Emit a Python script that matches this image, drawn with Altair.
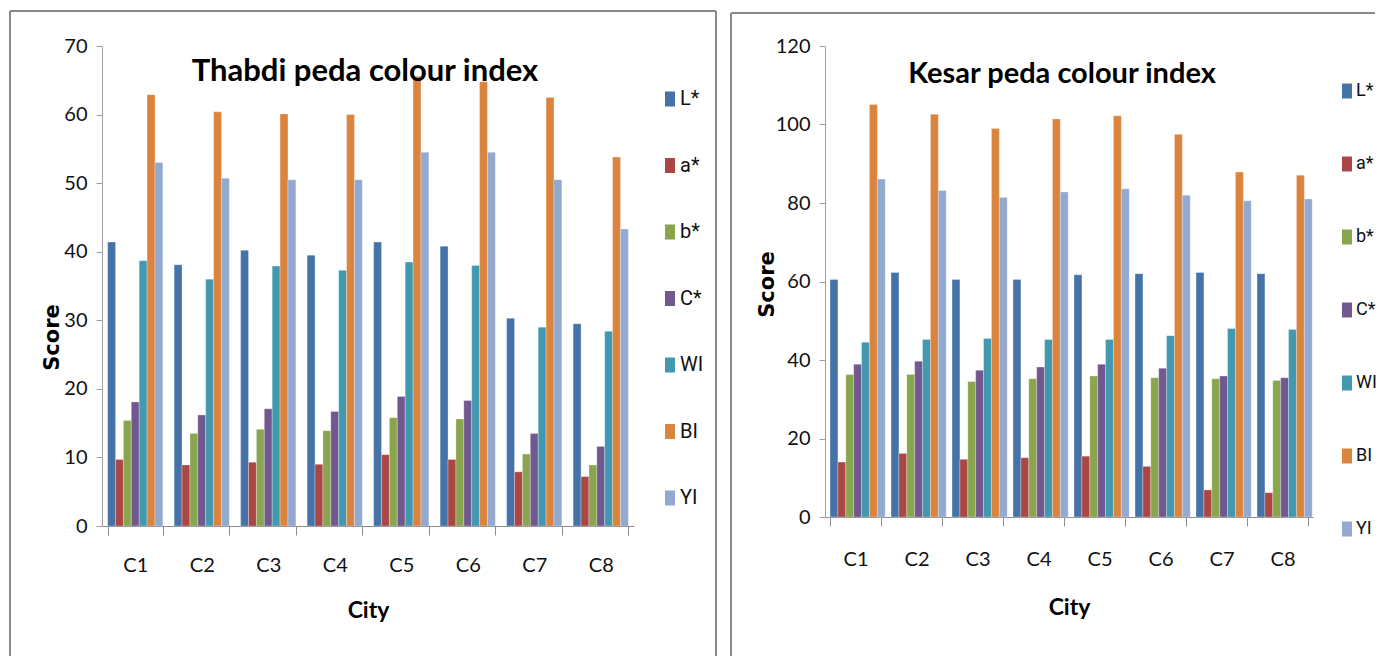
import altair as alt
import pandas as pd

cities = ["C1", "C2", "C3", "C4", "C5", "C6", "C7", "C8"]
indices = ["L*", "a*", "b*", "C*", "WI", "BI", "YI"]
colors = ["#4572A7", "#AA4643", "#89A54E", "#71588F", "#4198AF", "#DB843D", "#93A9CF"]

# Thabdi peda
thabdi_L = [41.4, 38.1, 40.2, 39.5, 41.4, 40.8, 30.3, 29.5]
thabdi_a = [9.7, 8.9, 9.3, 9.0, 10.4, 9.7, 7.9, 7.2]
thabdi_b = [15.4, 13.5, 14.1, 13.9, 15.8, 15.6, 10.5, 8.9]
thabdi_C = [18.1, 16.2, 17.1, 16.7, 18.9, 18.3, 13.5, 11.6]
thabdi_WI = [38.7, 36.0, 37.9, 37.3, 38.5, 38.0, 29.0, 28.4]
thabdi_BI = [62.9, 60.4, 60.1, 60.0, 65.6, 64.8, 62.5, 53.8]
thabdi_YI = [53.0, 50.7, 50.5, 50.5, 54.5, 54.5, 50.5, 43.3]

# Kesar peda
kesar_L = [60.5, 62.3, 60.5, 60.5, 61.7, 62.0, 62.3, 62.0]
kesar_a = [14.0, 16.2, 14.7, 15.1, 15.5, 12.9, 6.9, 6.2]
kesar_b = [36.3, 36.3, 34.5, 35.2, 35.9, 35.5, 35.2, 34.8]
kesar_C = [38.9, 39.7, 37.4, 38.2, 38.9, 37.9, 35.9, 35.5]
kesar_WI = [44.5, 45.2, 45.5, 45.2, 45.2, 46.2, 48.0, 47.8]
kesar_BI = [105.1, 102.6, 99.0, 101.4, 102.2, 97.5, 87.9, 87.1]
kesar_YI = [86.1, 83.2, 81.4, 82.8, 83.6, 82.0, 80.6, 81.0]

left_ticks = [0, 10, 20, 30, 40, 50, 60, 70]
right_ticks = [0, 20, 40, 60, 80, 100, 120]

FONT = "Lato"
LEG_FONT = "Roboto"
FRAME = "#8a8a8a"


def long_df(series):
    rows = []
    for idx, vals in zip(indices, series):
        for c, v in zip(cities, vals):
            rows.append({"City": c, "Index": idx, "Score": v})
    return pd.DataFrame(rows)


def frame_line(x1, x2, y1, y2):
    return alt.Chart(pd.DataFrame({"f": [0]})).mark_rule(
        color=FRAME, strokeWidth=2
    ).encode(x=alt.value(x1), x2=alt.value(x2), y=alt.value(y1), y2=alt.value(y2))


def panel(df, title, title_size, ticks, w, h, pad_inner, title_x, title_y,
          score_x, score_y, leg_x, leg_y, leg_pad, leg_font, x_lab_pad, x_title_pad, frames):
    bars = alt.Chart(df).mark_bar(stroke="white", strokeWidth=0.4, strokeOpacity=0.7).encode(
        x=alt.X(
            "City:N", sort=cities, title="City",
            scale=alt.Scale(paddingInner=pad_inner, paddingOuter=pad_inner / 2),
            axis=alt.Axis(
                labelAngle=0, tickBand="extent", tickSize=9, tickColor="#8c8c8c",
                domainColor="#8c8c8c", labelFont=FONT, labelFontSize=20,
                labelColor="#111111", labelPadding=x_lab_pad, titleFont=FONT,
                titleFontSize=23, titleFontWeight="bold", titleColor="#000000",
                titlePadding=x_title_pad, grid=False,
            ),
        ),
        xOffset=alt.XOffset("Index:N", sort=indices, scale=alt.Scale(domain=indices)),
        y=alt.Y(
            "Score:Q", title="Score",
            scale=alt.Scale(domain=[ticks[0], ticks[-1]], nice=False),
            axis=alt.Axis(
                values=ticks, tickSize=6, tickColor="#a0a0a0", domainColor="#a0a0a0",
                labelFont=FONT, labelFontSize=20, labelColor="#111111",
                labelPadding=9, grid=False, titleFont="DejaVu Sans",
                titleFontSize=21, titleFontWeight="bold", titleColor="#000000",
                titleAngle=270, titleX=score_x, titleY=score_y,
                titleBaseline="middle", titleAlign="center",
            ),
        ),
        color=alt.Color(
            "Index:N", scale=alt.Scale(domain=indices, range=colors),
            legend=alt.Legend(
                title=None, orient="none", legendX=leg_x, legendY=leg_y,
                symbolType="M-1,-1.5H1V1.5H-1Z", symbolSize=100,
                symbolStrokeWidth=0, labelFont=LEG_FONT, labelFontSize=leg_font,
                labelColor="#111111", labelOffset=0, rowPadding=leg_pad, padding=0,
            ),
        ),
    )
    heading = alt.Chart(pd.DataFrame({"label": [title]})).mark_text(
        font=FONT, fontSize=title_size, fontWeight="bold", color="#000000",
        align="center", baseline="alphabetic",
    ).encode(text="label:N", x=alt.value(title_x), y=alt.value(title_y))
    border = [frame_line(*f) for f in frames]
    return alt.layer(*border, bars, heading).properties(width=w, height=h)


left = panel(
    long_df([thabdi_L, thabdi_a, thabdi_b, thabdi_C, thabdi_WI, thabdi_BI, thabdi_YI]),
    "Thabdi peda colour index", 31, left_ticks, 532, 480, 0.17,
    263, 35, -50, 291, 558, 43, 46.5, 20, 20, 24,
    [(-92, 614, -35, -35), (-92, -92, -35, 610), (614, 614, -35, 610)],
)
right = panel(
    long_df([kesar_L, kesar_a, kesar_b, kesar_C, kesar_WI, kesar_BI, kesar_YI]),
    "Kesar peda colour index", 29, right_ticks, 488, 471, 0.165,
    237, 37, -58, 238, 513, 36, 55, 18, 23, 27,
    [(-94, 550, -33, -33), (-94, -94, -33, 610)],
)

chart = alt.hconcat(left, right, spacing=13).resolve_scale(
    color="independent", x="independent", y="independent"
).configure_view(stroke=None).properties(
    padding={"left": 9, "top": 10, "right": 0, "bottom": 0}
)

chart.save("out.html", embed_options={"renderer": "svg", "actions": False})
